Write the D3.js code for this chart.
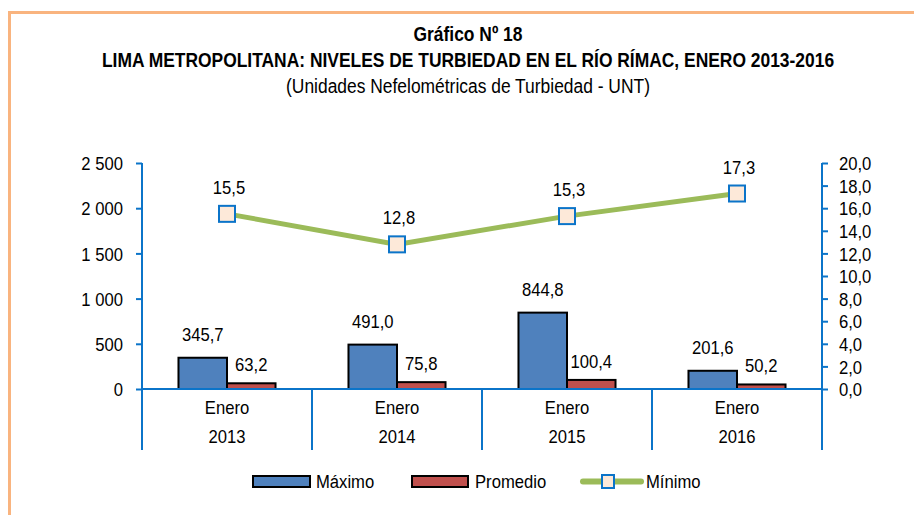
<!DOCTYPE html>
<html>
<head>
<meta charset="utf-8">
<script src="https://cdn.jsdelivr.net/npm/d3@7"></script>
<style>
  body { margin: 0; background: #fff; }
  svg text { font-family: "Liberation Sans", Arial, sans-serif; fill: #000; }
</style>
</head>
<body>
<div id="chart"></div>
<script>
// data
var categories = ["2013", "2014", "2015", "2016"];
var maximo = [345.7, 491.0, 844.8, 201.6];
var promedio = [63.2, 75.8, 100.4, 50.2];
var minimo = [15.5, 12.8, 15.3, 17.3];
var leftTicks = [0, 500, 1000, 1500, 2000, 2500];
var rightTicks = [0, 2, 4, 6, 8, 10, 12, 14, 16, 18, 20];

var W = 914, H = 515;
var axisBlue = "#0B74C9";
var chartFont = "18.5px";

var loc = d3.formatLocale({decimal: ",", thousands: " ", grouping: [3], currency: ["", ""]});
var fmtThousands = loc.format(",d");
var fmt1 = loc.format(".1f");

// fake a narrow font: move x/y into a transform and scale horizontally
function narrow(sel, k) {
    k = k || 0.9;
    sel.each(function() {
        var t = d3.select(this);
        var tx = +t.attr("x") || 0, ty = +t.attr("y") || 0;
        t.attr("transform", "translate(" + tx + "," + ty + ") scale(" + k + ",1)")
            .attr("x", 0).attr("y", 0);
    });
}

var svg = d3.select("#chart").append("svg")
    .attr("width", W)
    .attr("height", H);

// orange frame
svg.append("path")
    .attr("d", "M9.5," + H + "V12.5H" + W)
    .style("fill", "none")
    .style("stroke", "#F9B47F")
    .style("stroke-width", 3);

// titles
var titles = svg.append("g").attr("text-anchor", "middle").style("font-size", "21px");
titles.append("text").attr("x", 468).attr("y", 41)
    .style("font-weight", "bold").text("Gráfico Nº 18");
titles.append("text").attr("x", 468).attr("y", 67)
    .style("font-weight", "bold")
    .text("LIMA METROPOLITANA: NIVELES DE TURBIEDAD EN EL RÍO RÍMAC, ENERO 2013-2016");
titles.append("text").attr("x", 468).attr("y", 93)
    .text("(Unidades Nefelométricas de Turbiedad - UNT)");
narrow(titles.selectAll("text"), 0.83);

var left = 142, right = 822, yTop = 163, base = 389, bottom = 450;

var x = d3.scaleBand().domain(categories).range([left, right]);
var sub = d3.scaleBand().domain(["max", "prom"]).range([0, x.bandwidth()]).paddingOuter(0.752).paddingInner(0);
var yL = d3.scaleLinear().domain([0, 2500]).range([base, yTop]);
var yR = d3.scaleLinear().domain([0, 20]).range([base, yTop]);

// left axis
var gl = svg.append("g").attr("transform", "translate(" + left + ",0)")
    .call(d3.axisLeft(yL).tickValues(leftTicks).tickSize(6).tickPadding(13).tickFormat(fmtThousands));
gl.select(".domain").remove();
gl.selectAll("line").style("stroke", axisBlue).style("stroke-width", 2);
gl.selectAll("text").style("font-size", chartFont).style("font-family", null).attr("dy", "0.36em");
narrow(gl.selectAll("text"));

// right axis
var gr = svg.append("g").attr("transform", "translate(" + right + ",0)")
    .call(d3.axisRight(yR).tickValues(rightTicks).tickSize(6).tickPadding(11).tickFormat(fmt1));
gr.select(".domain").remove();
gr.selectAll("line").style("stroke", axisBlue).style("stroke-width", 2);
gr.selectAll("text").style("font-size", chartFont).style("font-family", null).attr("dy", "0.36em");
narrow(gr.selectAll("text"));

// vertical axis lines and category separators
var seps = [left].concat(categories.map(function(c) { return x(c) + x.bandwidth(); }));
svg.append("g").selectAll("line").data(seps).enter().append("line")
    .attr("x1", function(d) { return d; })
    .attr("x2", function(d) { return d; })
    .attr("y1", function(d, i) { return (i == 0 || i == seps.length - 1) ? yTop : base; })
    .attr("y2", bottom)
    .style("stroke", axisBlue).style("stroke-width", 2);

// bars
var bars = svg.append("g");
bars.selectAll("rect.max").data(maximo).enter().append("rect")
    .attr("x", function(d, i) { return x(categories[i]) + sub("max"); })
    .attr("y", function(d) { return yL(d); })
    .attr("width", sub.bandwidth())
    .attr("height", function(d) { return base - yL(d); })
    .style("fill", "#4F81BD").style("stroke", "#000").style("stroke-width", 2);
bars.selectAll("rect.prom").data(promedio).enter().append("rect")
    .attr("x", function(d, i) { return x(categories[i]) + sub("prom"); })
    .attr("y", function(d) { return yL(d); })
    .attr("width", sub.bandwidth())
    .attr("height", function(d) { return base - yL(d); })
    .style("fill", "#C0504D").style("stroke", "#000").style("stroke-width", 2);

// baseline
svg.append("line").attr("x1", left).attr("x2", right).attr("y1", base).attr("y2", base)
    .style("stroke", axisBlue).style("stroke-width", 2);

// line series
var cx = function(i) { return x(categories[i]) + x.bandwidth() / 2; };
var line = d3.line()
    .x(function(d, i) { return cx(i); })
    .y(function(d) { return yR(d); });
svg.append("path").datum(minimo).attr("d", line)
    .style("fill", "none").style("stroke", "#9BBB59").style("stroke-width", 5);
svg.append("g").selectAll("rect").data(minimo).enter().append("rect")
    .attr("x", function(d, i) { return cx(i) - 8; })
    .attr("y", function(d) { return yR(d) - 8; })
    .attr("width", 16).attr("height", 16)
    .style("fill", "#FDE9D9").style("stroke", axisBlue).style("stroke-width", 2);

// value labels
var lab = svg.append("g").attr("text-anchor", "middle").style("font-size", chartFont);
lab.selectAll("text.max").data(maximo).enter().append("text")
    .attr("x", function(d, i) { return x(categories[i]) + sub("max") + sub.bandwidth() / 2; })
    .attr("y", function(d) { return yL(d) - 17; })
    .text(function(d) { return fmt1(d); });
lab.selectAll("text.prom").data(promedio).enter().append("text")
    .attr("x", function(d, i) { return x(categories[i]) + sub("prom") + sub.bandwidth() / 2; })
    .attr("y", function(d) { return yL(d) - 12; })
    .text(function(d) { return fmt1(d); });
lab.selectAll("text.min").data(minimo).enter().append("text")
    .attr("x", function(d, i) { return cx(i) + 2; })
    .attr("y", function(d) { return yR(d) - 20; })
    .text(function(d) { return fmt1(d); });
narrow(lab.selectAll("text"));

// category labels
var cat = svg.append("g").attr("text-anchor", "middle").style("font-size", chartFont);
cat.selectAll("text.m").data(categories).enter().append("text")
    .attr("x", function(d) { return x(d) + x.bandwidth() / 2; })
    .attr("y", 414).text("Enero");
cat.selectAll("text.y").data(categories).enter().append("text")
    .attr("x", function(d) { return x(d) + x.bandwidth() / 2; })
    .attr("y", 443).text(function(d) { return d; });
narrow(cat.selectAll("text"));

// legend
var leg = svg.append("g").style("font-size", chartFont);
leg.append("rect").attr("x", 253).attr("y", 476).attr("width", 57).attr("height", 11)
    .style("fill", "#4F81BD").style("stroke", "#000").style("stroke-width", 2);
leg.append("text").attr("x", 316).attr("y", 488).text("Máximo");
leg.append("rect").attr("x", 412).attr("y", 476).attr("width", 56).attr("height", 11)
    .style("fill", "#C0504D").style("stroke", "#000").style("stroke-width", 2);
leg.append("text").attr("x", 475).attr("y", 488).text("Promedio");
leg.append("line").attr("x1", 583).attr("x2", 641).attr("y1", 481.5).attr("y2", 481.5)
    .style("stroke", "#9BBB59").style("stroke-width", 6).style("stroke-linecap", "round");
leg.append("rect").attr("x", 602).attr("y", 475).attr("width", 12).attr("height", 13)
    .style("fill", "#FDE9D9").style("stroke", axisBlue).style("stroke-width", 2);
leg.append("text").attr("x", 646).attr("y", 488).text("Mínimo");
narrow(leg.selectAll("text"));
</script>
</body>
</html>
